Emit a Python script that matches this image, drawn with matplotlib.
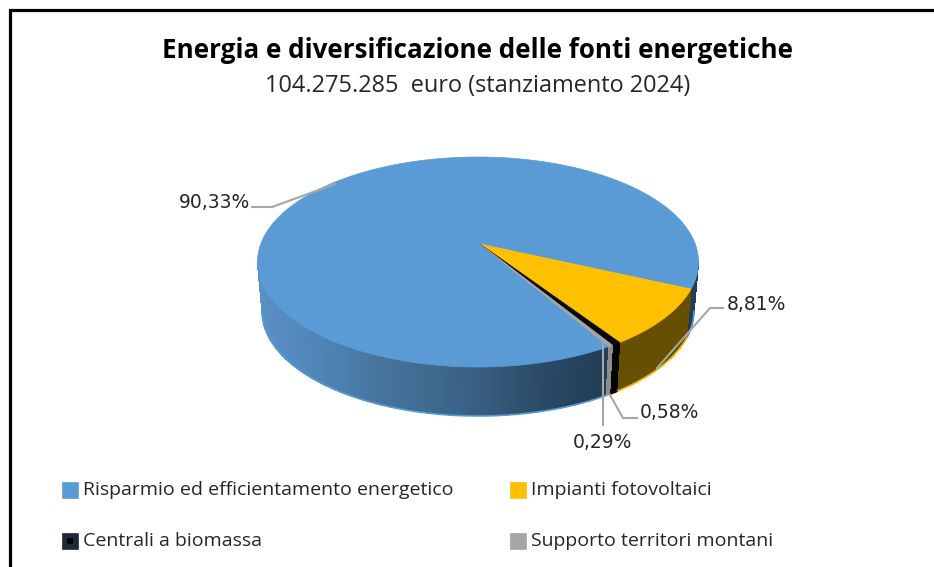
import numpy as np
import matplotlib
matplotlib.use("Agg")
import matplotlib.pyplot as plt
from matplotlib.patches import Polygon, Rectangle
from matplotlib.colors import LinearSegmentedColormap

title = "Energia e diversificazione delle fonti energetiche"
subtitle = "104.275.285  euro (stanziamento 2024)"
categories = ["Risparmio ed efficientamento energetico", "Impianti fotovoltaici",
              "Centrali a biomassa", "Supporto territori montani"]
values = [90.33, 8.81, 0.58, 0.29]
value_labels = ["90,33%", "8,81%", "0,58%", "0,29%"]
colors = ["#5b9bd5", "#ffc000", "#0a0a0a", "#a5a5a5"]
wall_colors = [None, "#665000", "#050505", "#8c8c8c"]
legend_colors = ["#5b9bd5", "#ffc000", "#1f2a38", "#a5a5a5"]

# pie geometry, in pixels of the picture
cx, cy, rx, ry = 478, 262, 220.5, 105
low_cx, low_cy, low_rx, low_ry = 478, 311, 216, 105
persp = 0.171
apex_shift = 2
start_angle = -59.1  # where the first slice starts, going clockwise

fig = plt.figure(figsize=(9.34, 5.67), dpi=100)
ax = fig.add_axes([0, 0, 1, 1])
ax.set_xlim(0, 934)
ax.set_ylim(567, 0)
ax.axis("off")


def rim(t, x0, y0, a, b):
    # circle seen in perspective: the centre lands above the middle of the ellipse
    s, c = np.sin(t), np.cos(t)
    d = 1 + persp * s
    u = c * np.sqrt(1 - persp ** 2) / d
    v = (s + persp) / d
    return x0 + a * u, y0 - b * v


blue_wall = LinearSegmentedColormap.from_list(
    "wall", ["#5a90c4", "#4f86b8", "#47769f", "#3f6a90", "#375c7e", "#2a4a66", "#223d55"])

fracs = np.array(values) / sum(values) * 360
ends = start_angle - np.cumsum(fracs)
starts = ends + fracs

# side walls first, the top goes over them
for i in range(len(values)):
    n = max(int(fracs[i] * 4), 4)
    t = np.radians(np.linspace(starts[i], ends[i], n))
    xt, yt = rim(t, cx, cy, rx, ry)
    xl, yl = rim(t, low_cx, low_cy, low_rx, low_ry)
    for j in range(n - 1):
        if yt[j] < cy - 1 and yt[j + 1] < cy - 1:
            continue
        if wall_colors[i] is None:
            col = blue_wall(np.clip((xt[j] - 258) / 345, 0, 1))
        else:
            col = wall_colors[i]
        ax.add_patch(Polygon([(xt[j], yt[j]), (xt[j + 1], yt[j + 1]), (xl[j + 1], yl[j + 1]), (xl[j], yl[j])],
                             fc=col, ec="none", antialiased=False, zorder=2))
    # lighter edge under the wall, one run per stretch of the front
    yb = yl.copy()
    yb[yl < low_cy] = np.nan
    ax.plot(xl, yb, color=colors[i], lw=1.2, zorder=3)

for i in range(len(values)):
    n = max(int(fracs[i] * 2), 3)
    t = np.radians(np.linspace(starts[i], ends[i], n))
    xt, yt = rim(t, cx, cy, rx, ry)
    pts = np.column_stack([np.r_[cx + apex_shift, xt], np.r_[cy - persp * ry, yt]])
    ax.add_patch(Polygon(pts, fc=colors[i], ec=colors[i], lw=0.5, zorder=4))

# leader lines and value labels
leaders = [[(252, 207), (272, 207), (335, 184)],
           [(723, 308), (710, 308), (657, 368)],
           [(637, 418), (623, 418), (610, 395)],
           [(603, 425), (603, 343)]]
label_pos = [(179, 202), (727, 305), (640, 412), (573, 443)]
for pts, pos, lab in zip(leaders, label_pos, value_labels):
    ax.plot(*zip(*pts), color="#a6a6a6", lw=1.5, zorder=5, solid_joinstyle="miter")
    ax.text(pos[0], pos[1], lab, fontsize=13.5, family="DejaVu Sans", color="#262626",
            va="center", ha="left", zorder=6)

# frame: only top and left
ax.plot([9.8, 9.8, 934], [567, 9.6, 9.6], color="black", lw=2.3, solid_joinstyle="miter", zorder=1)

ax.text(478, 50, title, fontsize=18.7, family="Open Sans", weight="bold", color="black", ha="center", va="center")
ax.text(478, 86, subtitle, fontsize=16.9, family="Open Sans", color="#262626", ha="center", va="center")

# legend
legend_x = [62, 510, 62, 510]
legend_y = [490, 490, 541, 541]
for name, col, lx, ly in zip(categories, legend_colors, legend_x, legend_y):
    ax.add_patch(Rectangle((lx, ly - 8), 16, 16, fc=col, ec=col, lw=0.5))
    ax.text(lx + 21, ly, name, fontsize=14, family="Open Sans", color="#262626", ha="left", va="center")
ax.add_patch(Rectangle((legend_x[2] + 5, legend_y[2] - 3), 6, 6, fc="black", ec="black", lw=0))

fig.savefig("out.png", dpi=100)
